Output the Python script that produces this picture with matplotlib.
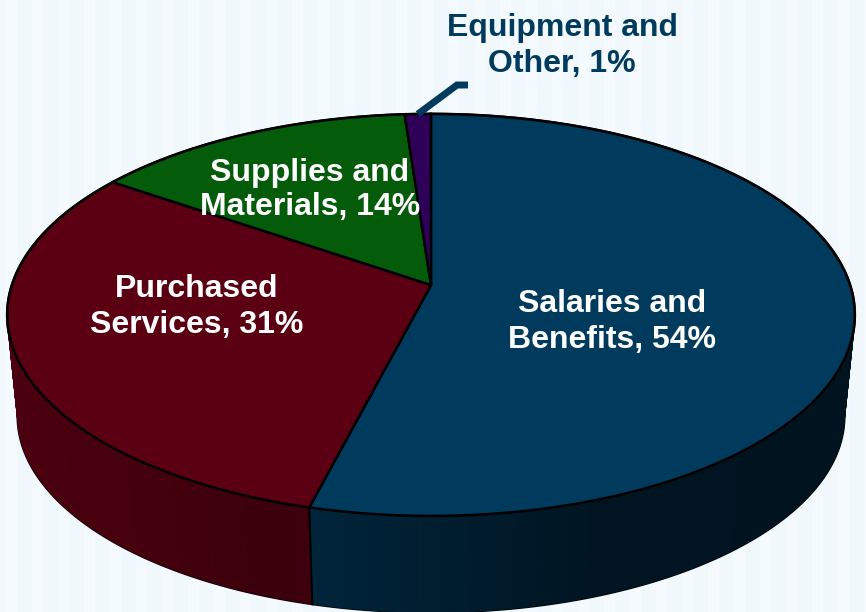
#!/usr/bin/env python3
import matplotlib
matplotlib.use('Agg')
import matplotlib.pyplot as plt
from matplotlib.colors import to_rgb
import numpy as np

labels = ['Salaries and\nBenefits, 54%', 'Purchased\nServices, 31%',
          'Supplies and\nMaterials, 14%', 'Equipment and\nOther, 1%']
# slice sizes as drawn, the printed labels are rounded
values = [54.0, 30.6, 14.25, 1.15]
colors = ['#003a5d', '#5a0012', '#045c0b', '#2f0058']
label_pos = [(612, 322), (197, 307), (310, 190), (562, 46)]
label_colors = ['white', 'white', 'white', '#003a5d']
label_spacing = [1.28, 1.28, 1.21, 1.28]

plt.rcParams['font.family'] = ['Liberation Sans', 'DejaVu Sans']

# perspective of the tilted disc, all in pixels
CX, CY = 431, 285
A, B, K = 419, 196.5, 0.149
BOTTOM_SCALE, BOTTOM_Y = 0.975, 387


def top_pt(theta):
    # theta clockwise from 12 o'clock, radians
    u, v = np.sin(theta), np.cos(theta)
    d = 1 + K * v
    return CX + A * u / d, CY - B * v / d


def bottom_pt(theta):
    u, v = np.sin(theta), np.cos(theta)
    d = 1 + K * v
    return CX + BOTTOM_SCALE * A * u / d, BOTTOM_Y - BOTTOM_SCALE * B * v / d


def side_shade(x, i):
    # darkening of the rim, left to right
    if i == 0:
        return np.interp(x, [310, 450, 600, 866], [0.63, 0.50, 0.36, 0.34])
    return np.interp(x, [0, 150, 280, 310], [0.84, 0.76, 0.64, 0.70])


fig = plt.figure(figsize=(8.66, 6.12), dpi=100, facecolor='#f0f8fc')
ax = fig.add_axes([0, 0, 1, 1])
ax.set_xlim(0, 866)
ax.set_ylim(612, 0)
ax.axis('off')

for x0 in range(6, 866, 26):
    ax.axvspan(x0, x0 + 11, color='#f4fafd', lw=0, zorder=0)

edges = 2 * np.pi * np.cumsum([0] + values) / sum(values)

# rim : black underlay first, shaded strips above it
for i in range(len(values)):
    th = np.linspace(edges[i], edges[i + 1], max(int(values[i] * 4), 4))
    tx, ty = top_pt(th)
    bx, by = bottom_pt(th)
    ax.fill(np.r_[tx, bx[::-1]], np.r_[ty, by[::-1]], facecolor='black',
            edgecolor='black', lw=2.0, zorder=1)
for i in range(len(values)):
    th = np.linspace(edges[i], edges[i + 1], max(int(values[i] * 4), 4))
    tx, ty = top_pt(th)
    bx, by = bottom_pt(th)
    for j in range(len(th) - 1):
        c = np.array(to_rgb(colors[i])) * side_shade((tx[j] + tx[j + 1]) / 2, i)
        ax.fill([tx[j], tx[j + 1], bx[j + 1], bx[j]], [ty[j], ty[j + 1], by[j + 1], by[j]],
                facecolor=c, edgecolor=c, lw=0.9, zorder=2)
    ax.plot([tx[0], bx[0]], [ty[0], by[0]], color='black', lw=1.4, zorder=3)

# top face
for i in range(len(values)):
    th = np.linspace(edges[i], edges[i + 1], max(int(values[i] * 4), 4))
    tx, ty = top_pt(th)
    ax.fill(np.r_[CX, tx], np.r_[CY, ty], facecolor=colors[i], edgecolor='black',
            lw=1.8, joinstyle='round', zorder=4)

for lab, (x, y), c, sp in zip(labels, label_pos, label_colors, label_spacing):
    ax.text(x, y, lab, color=c, fontsize=23, fontweight='bold', ha='center',
            va='center', linespacing=sp, zorder=6)

# leader for the small slice
mid = (edges[3] + edges[4]) / 2
lx, ly = top_pt(mid)
ax.plot([lx, 457, 468], [ly, 85, 85], color='#003a5d', lw=5, solid_joinstyle='miter',
        solid_capstyle='butt', zorder=5)

plt.savefig('out.png', dpi=100, facecolor=fig.get_facecolor())
plt.close()
